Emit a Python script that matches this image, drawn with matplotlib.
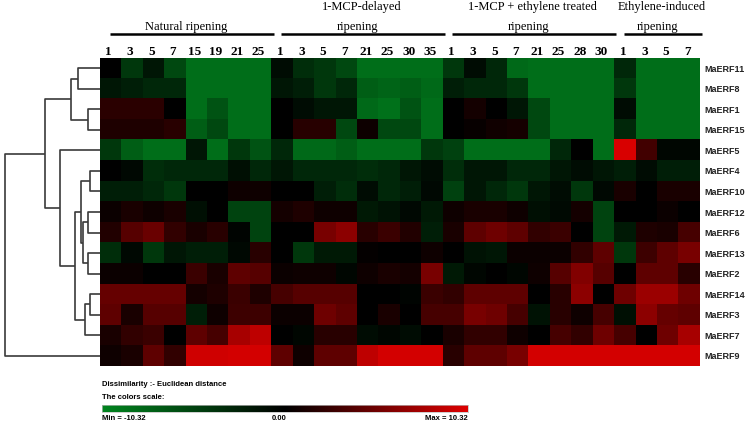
import numpy as np
import matplotlib
matplotlib.use("Agg")
import matplotlib.pyplot as plt
from matplotlib.colors import LinearSegmentedColormap
from matplotlib.transforms import blended_transform_factory

# ---- data ----
genes = ['MaERF11', 'MaERF8', 'MaERF1', 'MaERF15', 'MaERF5', 'MaERF4', 'MaERF10',
         'MaERF12', 'MaERF6', 'MaERF13', 'MaERF2', 'MaERF14', 'MaERF3', 'MaERF7', 'MaERF9']
groups = ['Natural ripening', '1-MCP-delayed\nripening',
          '1-MCP + ethylene treated\nripening', 'Ethylene-induced\nripening']
days_natural = ['1', '3', '5', '7', '15', '19', '21', '25']
days_mcp = ['1', '3', '5', '7', '21', '25', '30', '35']
days_mcp_eth = ['1', '3', '5', '7', '21', '25', '28', '30']
days_eth = ['1', '3', '5', '7']

erf11 = [0, -4.3, -1.7, -5.6, -8.6, -8.6, -8.6, -8.6, -1, -3.5, -4.3, -5.6, -8.6, -8.6, -8.6, -8.6, -4.3, -1, -3, -8.2, -8.6, -8.6, -8.6, -8.6, -3, -8.6, -8.6, -8.6]
erf8 = [-1.7, -2.4, -3, -3, -8.6, -8.6, -8.6, -8.6, -1.7, -2.4, -4.3, -3, -7.3, -7.8, -7.3, -8.2, -2.4, -3, -3, -4.3, -8.6, -8.6, -8.6, -8.6, -4.3, -8.6, -8.6, -8.6]
erf1 = [2.0, 2.0, 2.0, 0, -8.6, -6.5, -8.6, -8.6, 0, -1, -1.7, -1.7, -8.2, -8.8, -6.5, -8.6, 0, 0.9, 0, -1.7, -5.6, -8.6, -8.6, -8.6, -1, -8.6, -8.6, -8.6]
erf15 = [1.4, 1.4, 1.4, 1.9, -7.3, -5.6, -8.6, -8.6, 0, 1.8, 1.8, -5.6, 0.6, -5.6, -5.6, -8.6, 0, 0.4, 0.8, 1, -5.6, -8.6, -8.6, -8.6, -3, -8.6, -8.6, -8.6]
erf5 = [-4.3, -7.3, -8.6, -8.6, -1.7, -8.6, -4.3, -6.5, -3, -8.2, -8.2, -7.3, -8.6, -8.6, -8.6, -4.3, -5, -8.6, -8.6, -8.6, -8.6, -3, 0, -8.6, 10, 3, -0.5, -0.5]
erf4 = [0, -0.7, -3.5, -3, -3, -3, -1.2, -3, -1.7, -3, -3, -3, -3.5, -3, -1.7, -1, -3.5, -1.7, -1.7, -3, -3, -1.7, -1, -1.7, -2.4, -1, -2.4, -2.4]
erf10 = [-2.4, -2.4, -3, -4.3, 0, 0, 0.7, 0.7, 0, 0, -2.4, -3.5, -1, -3, -2.4, -0.7, -5, -1.7, -3, -4.3, -1.7, -1, -4.3, -0.7, 1.2, 0, 1.2, 1.2]
erf12 = [0.5, 1.2, 0.7, 1.2, -1.2, 0, -5.2, -5.2, 0.9, 1.4, 0.7, 0.7, -2, -1.4, -0.7, -2, 0.7, 1.2, 1.2, 0.7, -1.2, -0.8, 0.9, -5.2, 0, 0, 0.5, 0]
erf6 = [1.6, 4, 4.9, 2.3, 1.2, 1.9, -0.4, -5.2, 0, 0, 5.6, 6.5, 1.9, 2.7, 1.6, -2.4, 1.2, 4.4, 5.1, 4.4, 2.3, 2.7, 0, -5.2, -2, 1.4, 1.2, 3.3]
erf13 = [-3.5, -0.7, -4.3, -1.7, -2.4, -2.4, -0.7, 1.9, 0, -4.3, -2, -2, 0.2, 0, 0, 0.7, 0, -1.4, -1.7, 0.5, 0.5, 0.5, 2.3, 4.4, -4.3, 2.9, 4.4, 5.6]
erf2 = [0.5, 0.5, 0, 0, 2.7, 1.2, 4.4, 4, 0.5, 0.7, 0.7, -0.5, 0.7, 1.2, 0.9, 5.6, -2, -0.5, 0, -0.5, 0.7, 4, 6, 4, 0, 4.4, 4.4, 1.9]
erf14 = [4.7, 4.7, 4.7, 4.7, 0.9, 1.4, 2.7, 1.4, 3.3, 4, 4, 4, 0, 0, -0.4, 2.7, 2.3, 4.4, 4.4, 4.4, 0, 1.9, 6.5, 0, 5.1, 7.2, 7.2, 5.1]
erf3 = [4.4, 1.2, 4, 4, -2.4, 0.7, 2.9, 2.9, 0.5, 0.5, 5.1, 4.4, 0, 1.2, 0, 3.3, 3.3, 5.6, 5.1, 3.3, -1.4, 1.9, 0.7, 3.3, -1.2, 6.5, 4.7, 4.4]
erf7 = [1.2, 2.3, 2.7, 0, 4.4, 3.3, 7.8, 8.8, 0, -0.5, 1.9, 1.9, -1, -0.5, -1, 0, 1.2, 2.3, 2.3, 0.7, 0, 3.3, 2.3, 5.1, 3.3, 0, 5.1, 7.8]
erf9 = [0.7, 1.2, 4.4, 2.3, 9.6, 9.6, 9.8, 9.8, 4.4, 0.7, 4.4, 4.4, 8.8, 9.8, 9.8, 9.8, 1.9, 4.4, 4.4, 5.6, 9.8, 9.8, 9.8, 9.8, 9.8, 9.8, 9.8, 9.8]

# cluster tree: (left node, right node, distance); leaves 0..14 in row order
merges = [(0, 1, 22), (2, 3, 12), (15, 16, 29), (5, 6, 10), (7, 8, 12),
          (9, 10, 12), (19, 20, 17), (18, 21, 19), (11, 12, 10), (23, 13, 15),
          (22, 24, 25), (4, 25, 40), (17, 26, 55), (27, 14, 95)]

vmin, vmax = -10.32, 10.32

# ---- figure ----
W, H = 749, 423
fig = plt.figure(figsize=(W / 100, H / 100), dpi=100)

def box(x0, y0, x1, y1):
    return [x0 / W, 1 - y1 / H, (x1 - x0) / W, (y1 - y0) / H]

cmap = LinearSegmentedColormap.from_list(
    'gkr', [(0.0, (0.0, 0.52, 0.12)), (0.5, (0.0, 0.0, 0.0)), (1.0, (0.87, 0.0, 0.0))])

data = np.array([erf11, erf8, erf1, erf15, erf5, erf4, erf10, erf12,
                 erf6, erf13, erf2, erf14, erf3, erf7, erf9])
day_labels = days_natural + days_mcp + days_mcp_eth + days_eth
group_sizes = [len(days_natural), len(days_mcp), len(days_mcp_eth), len(days_eth)]
ncol, nrow = len(day_labels), len(genes)

# heatmap
ax = fig.add_axes(box(100, 58, 700, 366))
ax.imshow(data, cmap=cmap, vmin=vmin, vmax=vmax, aspect='auto', interpolation='nearest')
ax.set_xticks([])
ax.yaxis.tick_right()
ax.set_yticks(range(nrow))
ax.set_yticklabels(genes, fontsize=6.5, fontweight='bold', family='Liberation Sans',
                   color='#222222')
ax.tick_params(axis='y', length=0, pad=3)
for s in ax.spines.values():
    s.set_visible(False)

# column numbers and group headers
tr = blended_transform_factory(ax.transData, fig.transFigure)
for i, lab in enumerate(day_labels):
    ax.text(i - 0.1, 1 - 52 / H, lab, transform=tr, ha='center', va='center',
            fontsize=9.5, fontweight='bold', family='Liberation Serif')

start = 0
for name, n in zip(groups, group_sizes):
    x0, x1 = start - 0.5, start + n - 0.5
    xc = (x0 + x1) / 2
    lines = name.split('\n')
    if len(lines) == 1:
        ax.text(xc, 1 - 27 / H, lines[0], transform=tr, ha='center', va='center',
                fontsize=9, family='Liberation Serif')
    else:
        ax.text(xc + 0.2, 1 - 7 / H, lines[0], transform=tr, ha='center', va='center',
                fontsize=9, family='Liberation Serif')
        ax.text(xc, 1 - 27 / H, lines[1], transform=tr, ha='center', va='center',
                fontsize=9, family='Liberation Serif')
    ax.plot([x0 + 0.45, x1 + 0.1], [1 - 34 / H] * 2, transform=tr, color='black',
            lw=1.8, clip_on=False, solid_capstyle='butt')
    start += n

ax.set_xlim(-0.5, ncol - 0.5)
ax.set_ylim(nrow - 0.5, -0.5)

# dendrogram
dax = fig.add_axes(box(0, 58, 100, 366))
pos = {i: (float(i), 0.0) for i in range(nrow)}
for k, (a, b, h) in enumerate(merges):
    ya, ha = pos[a]
    yb, hb = pos[b]
    dax.plot([ha, h, h, hb], [ya, ya, yb, yb], color='#3a3a3a', lw=1.2,
             solid_capstyle='butt')
    pos[nrow + k] = ((ya + yb) / 2, h)
dax.set_xlim(100, 0)
dax.set_ylim(nrow - 0.5, -0.5)
dax.axis('off')

# colour scale legend
fig.text(102 / W, 1 - 384 / H, 'Dissimilarity :- Euclidean distance', fontsize=5.5,
         fontweight='bold', family='Liberation Sans', va='center')
fig.text(102 / W, 1 - 397 / H, 'The colors scale:', fontsize=5.5,
         fontweight='bold', family='Liberation Sans', va='center')
cax = fig.add_axes(box(102, 405, 468, 412))
grad = np.linspace(vmin, vmax, 256)[None, :]
cax.imshow(grad, cmap=cmap, vmin=vmin, vmax=vmax, aspect='auto',
           extent=[vmin, vmax, 0, 1])
cax.set_xticks([])
cax.set_yticks([])
for s in cax.spines.values():
    s.set_color('#bbbbbb')
    s.set_linewidth(0.5)
ctr = blended_transform_factory(cax.transData, fig.transFigure)
cax.text(vmin, 1 - 418 / H, 'Min = %.2f' % vmin, transform=ctr, ha='left', va='center',
         fontsize=5.5, fontweight='bold', family='Liberation Sans')
cax.text(-0.3, 1 - 418 / H, '0.00', transform=ctr, ha='center', va='center',
         fontsize=5.5, fontweight='bold', family='Liberation Sans')
cax.text(vmax, 1 - 418 / H, 'Max = %.2f' % vmax, transform=ctr, ha='right', va='center',
         fontsize=5.5, fontweight='bold', family='Liberation Sans')

fig.savefig('out.png', dpi=100)
